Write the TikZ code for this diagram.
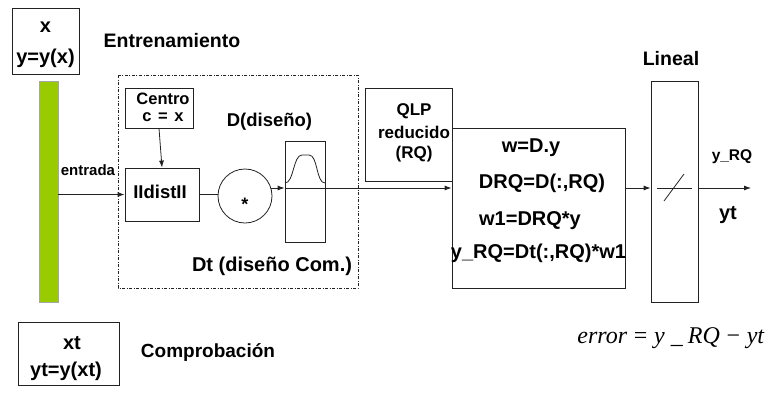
\documentclass[tikz,border=0pt]{standalone}
\usepackage{fontspec}
\setmainfont{Liberation Sans}
\newfontfamily\serifit{Liberation Serif}
\usetikzlibrary{arrows.meta}
\definecolor{barg}{HTML}{99CC00}
\definecolor{ln}{HTML}{222222}
\begin{document}
\begin{tikzpicture}[x=1pt,y=-1pt,
  box/.style={draw=ln, line width=0.8pt, inner sep=0pt, rectangle},
  txt/.style={anchor=base, inner sep=0pt, font=\bfseries\fontsize{20}{24}\selectfont},
  txts/.style={anchor=base, inner sep=0pt, font=\bfseries\fontsize{16.5}{19}\selectfont},
  conn/.style={draw=ln, line width=0.8pt},
  arr/.style={conn, -{Latex[length=7pt,width=5pt]}}]
\useasboundingbox (0,0) rectangle (774,397);

% top input box
\node[box, minimum width=67pt, minimum height=66pt] (topbox) at (45.5,41) {};
\node[txt] (tx) at (45.5,32) {x};
\node[txt] (ty) at (45.5,63) {y=y(x)};
\node[txt, font=\bfseries\fontsize{19.5}{23}\selectfont] (entr) at (172,47) {Entrenamiento};

% green bar
\node[rectangle, fill=barg, draw=black!35, line width=0.5pt, minimum width=19pt, minimum height=221pt, inner sep=0pt] (bar) at (48.5,191.5) {};

% dash-dotted frame
\draw[ln, line width=0.6pt, dash pattern=on 3pt off 1.5pt on 1pt off 1.5pt] (118,75) rectangle (358,288);

% Centro box
\node[box, minimum width=68pt, minimum height=40pt] (centro) at (159,108) {};
\node[txts] (centrot) at (163,104) {Centro};
\node[txts] (cx) at (163,121) {c\hspace{0.4em}=\hspace{0.4em}x};
\node[txt, font=\bfseries\fontsize{18.5}{22}\selectfont] (dd) at (269.5,126) {D(diseño)};

% dist box
\node[box, minimum width=74pt, minimum height=53pt] (dist) at (162,194.5) {};
\node[txt, font=\bfseries\fontsize{18.5}{22}\selectfont] (distt) at (160,198) {IIdistII};

% circle
\node[draw=ln, line width=0.8pt, circle, minimum size=54pt, inner sep=0pt] (circ) at (245,196) {};
\node[inner sep=0pt, font=\bfseries\fontsize{18}{20}\selectfont] (star) at (245,204) {*};

% gaussian box
\node[box, minimum width=40pt, minimum height=101pt] (gauss) at (305,191.5) {};
\draw[ln, line width=0.8pt] (285,183) .. controls (294,183) and (293,155) .. (302,155) -- (309,155) .. controls (318,155) and (316,183) .. (325,183);

\node[txt] (dt) at (272,271) {Dt (diseño Com.)};

% QLP box
\node[box, minimum width=87pt, minimum height=93pt] (qlp) at (408.5,134.5) {};
\node[txt, font=\bfseries\fontsize{17}{20}\selectfont] (q1) at (414,115) {QLP};
\node[txt, font=\bfseries\fontsize{17}{20}\selectfont] (q2) at (414,138) {reducido};
\node[txt, font=\bfseries\fontsize{17}{20}\selectfont] (q3) at (414,158) {(RQ)};

% big box
\node[box, minimum width=173pt, minimum height=160pt] (big) at (538.5,208) {};
\node[txt] (b1) at (531,152) {w=D.y};
\node[txt] (b2) at (542,188) {DRQ=D(:,RQ)};
\node[txt] (b3) at (530,225) {w1=DRQ*y};
\node[txt] (b4) at (538.5,258) {y\_RQ=Dt(:,RQ)*w1};

% Lineal box
\node[box, minimum width=47pt, minimum height=221pt] (lin) at (674.5,191.5) {};
\node[txt, font=\bfseries\fontsize{19.5}{23}\selectfont] (lint) at (671,65) {Lineal};
\coordinate (l1) at (657,188);
\coordinate (l2) at (692,188);
\coordinate (s1) at (664,201);
\coordinate (s2) at (684,174);
\draw[conn] (l1) -- (l2);
\draw[conn] (s1) -- (s2);

\node[txt, font=\bfseries\fontsize{15.5}{18}\selectfont] (yrq) at (732,160) {y\_RQ};
\node[txt] (yt) at (728,219) {yt};

% bottom box
\node[box, minimum width=101pt, minimum height=63pt] (bot) at (68.5,353.5) {};
\node[txt] (xt) at (72,349) {xt};
\node[txt] (ytt) at (66,376) {yt=y(xt)};
\node[txt, font=\bfseries\fontsize{19}{22}\selectfont] (comp) at (208,357) {Comprobación};

% error formula
\node[anchor=base, inner sep=0pt, font=\serifit\fontsize{24}{28}\selectfont] (err) at (671,343) {\textit{error}\hspace{0.28em}=\hspace{0.28em}\textit{y}\hspace{0.25em}\textit{\_}\hspace{0.2em}\textit{RQ}\hspace{0.28em}−\hspace{0.28em}\textit{yt}};

% connectors
\coordinate (lvl) at (0,188);
\coordinate (outp) at (751,188);
\draw[arr] (bar.east |- dist.west) -- (dist.west);
\node[anchor=base, inner sep=0pt, font=\bfseries\fontsize{15}{18}\selectfont] (entrada) at (88,175) {entrada};
\draw[arr] (centro.south) -- (dist.north);
\draw[conn] (dist.east) -- (dist.east -| circ.west);
\draw[arr] (circ.17) -- (circ.17 -| gauss.west);
\draw[arr] (gauss.west |- lvl) -- (big.west |- lvl);
\draw[arr] (big.east |- lvl) -- (lin.west |- lvl);
\draw[arr] (lin.east |- lvl) -- (outp);
\end{tikzpicture}
\end{document}
